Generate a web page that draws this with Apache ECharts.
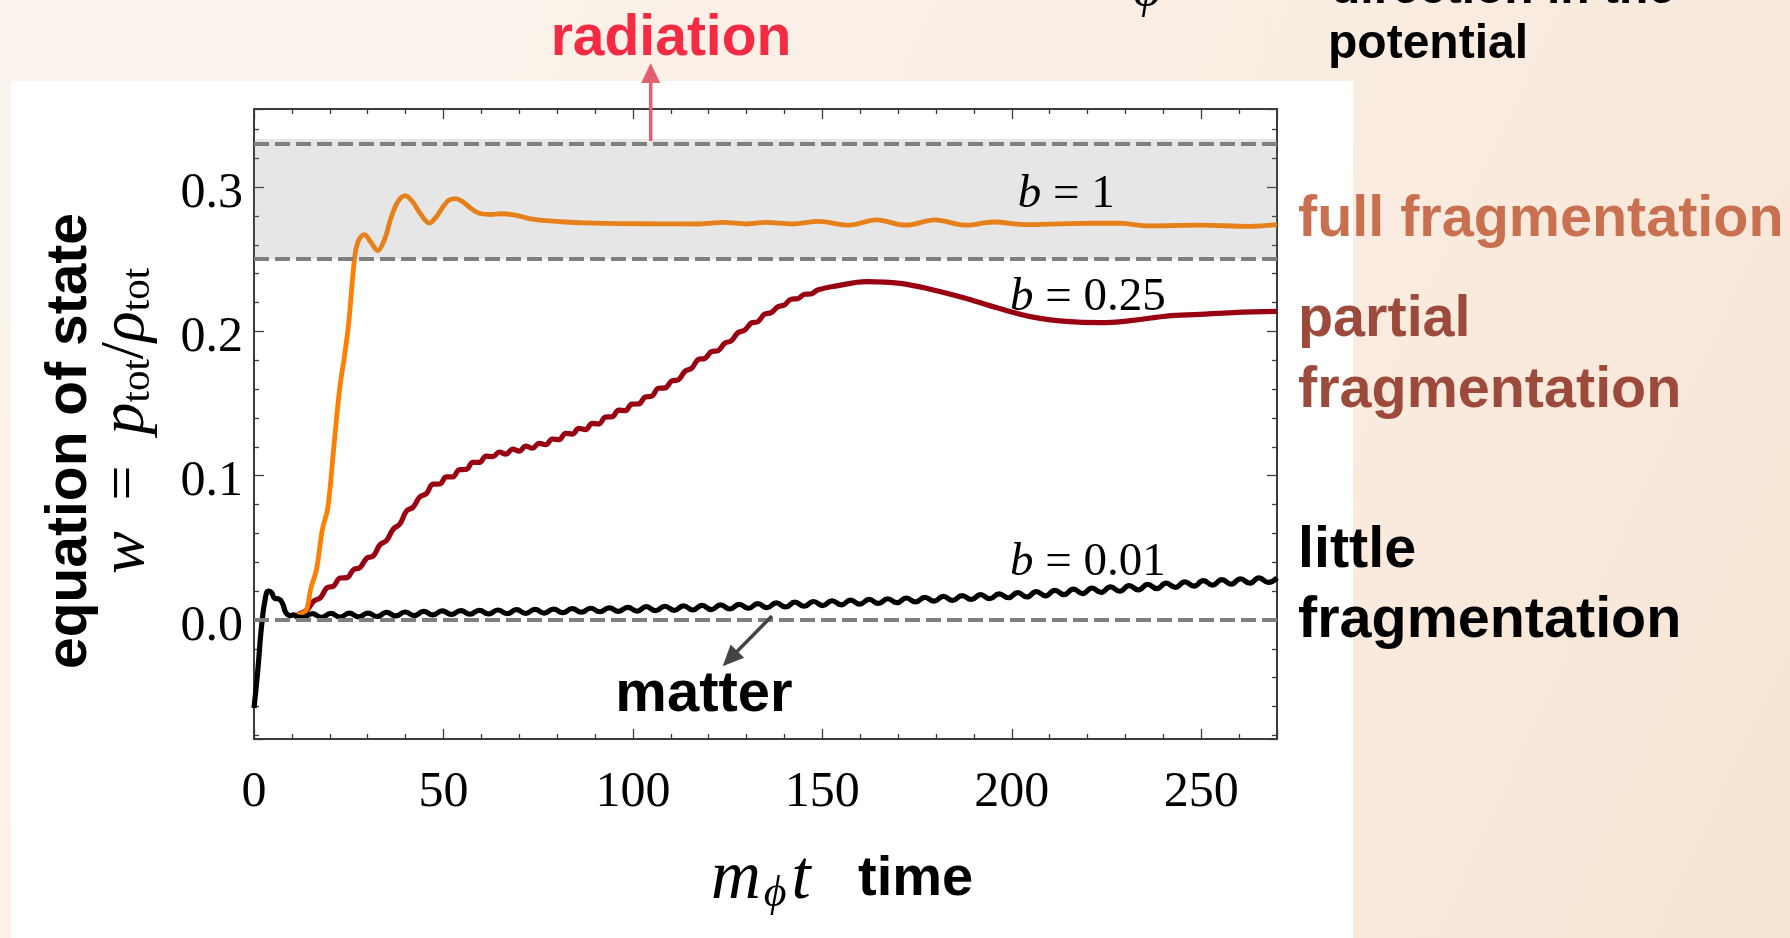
<!DOCTYPE html>
<html><head><meta charset="utf-8">
<script src="https://cdn.jsdelivr.net/npm/echarts@6/dist/echarts.min.js"></script>
<style>
html,body{margin:0;padding:0;width:1790px;height:938px;overflow:hidden;
background:linear-gradient(115deg,#fbf4ee 0%,#faefe6 45%,#f9eadd 75%,#f7e5d3 100%);}
#c{width:1790px;height:938px;}
</style></head><body><div id="c"></div>
<script>
// ---- axis ticks ----
const xTickValues = [0, 50, 100, 150, 200, 250];
const yTickValues = [0.0, 0.1, 0.2, 0.3];
const xRange = [0, 270];
const yRange = [-0.0825, 0.3541];

// ---- reference levels ----
const radiationLevel = 1 / 3;
const bandLow = 0.25;
const matterLevel = 0;

// ---- b = 1 (full fragmentation) ----
const fullT = [11.4, 13, 14, 15, 16.5, 18, 19.5, 21, 22.6, 24, 25, 26.6, 27.6, 29.1, 30.8, 32.6, 34.5, 36.2, 38, 39.9, 41.8, 43.8, 46.3, 48, 49.8, 51.5, 53.3, 55, 56.9, 58.5, 60, 62.5, 65, 69, 73, 78, 82, 90, 97, 107, 117.4, 124, 130, 135, 142, 149, 157, 164.3, 172, 179.7, 188, 195, 204, 214.6, 227.8, 236.4, 249.6, 262.8, 270];
const fullW = [0.0035, 0.005, 0.008, 0.022, 0.035, 0.062, 0.078, 0.118, 0.160, 0.185, 0.206, 0.252, 0.263, 0.267, 0.262, 0.256, 0.264, 0.279, 0.290, 0.294, 0.290, 0.282, 0.275, 0.279, 0.286, 0.291, 0.292, 0.290, 0.286, 0.283, 0.2815, 0.281, 0.2815, 0.2805, 0.278, 0.2765, 0.2758, 0.275, 0.2747, 0.2745, 0.2744, 0.2755, 0.2744, 0.2755, 0.2744, 0.2762, 0.2736, 0.2772, 0.2736, 0.2772, 0.2736, 0.2758, 0.274, 0.2747, 0.275, 0.2731, 0.2736, 0.2728, 0.274];

// ---- b = 0.25 (partial fragmentation) ----
const partT = [11.4, 14, 15.75, 17.5, 19.25, 21, 22.75, 24.5, 26.25, 28, 29.75, 31.5, 33.25, 35, 36.75, 38.5, 40.25, 42, 43.75, 45.5, 47.25, 49, 50.75, 52.5, 54.25, 56, 57.75, 59.5, 61.25, 63, 64.75, 66.5, 68.25, 70, 71.75, 73.5, 75.25, 77, 78.75, 80.5, 82.25, 84, 85.75, 87.5, 89.25, 91, 92.75, 94.5, 96.25, 98, 99.75, 101.5, 103.25, 105, 106.75, 108.5, 110.25, 112, 113.75, 115.5, 117.25, 119, 120.75, 122.5, 124.25, 126, 127.75, 129.5, 131.25, 133, 134.75, 136.5, 138.25, 140, 141.75, 143.5, 145.25, 147, 148.75, 153.8, 161.7, 170.5, 179.3, 188, 196.8, 205.6, 214.4, 223.2, 232, 240.8, 249.6, 258.4, 270];
const partW = [0.0035, 0.0070, 0.0130, 0.0153, 0.0223, 0.0235, 0.0291, 0.0293, 0.0348, 0.0364, 0.0428, 0.0444, 0.0521, 0.0551, 0.0630, 0.0665, 0.0755, 0.0782, 0.0852, 0.0875, 0.0941, 0.0942, 0.0991, 0.0992, 0.1042, 0.1043, 0.1092, 0.1092, 0.1136, 0.1132, 0.1164, 0.1149, 0.1184, 0.1170, 0.1204, 0.1190, 0.1224, 0.1215, 0.1254, 0.1250, 0.1294, 0.1288, 0.1327, 0.1319, 0.1363, 0.1358, 0.1406, 0.1408, 0.1454, 0.1451, 0.1496, 0.1497, 0.1545, 0.1551, 0.1606, 0.1608, 0.1656, 0.1664, 0.1724, 0.1744, 0.1805, 0.1813, 0.1860, 0.1867, 0.1918, 0.1935, 0.1991, 0.2008, 0.2058, 0.2068, 0.2119, 0.2130, 0.2170, 0.2183, 0.2223, 0.2226, 0.2257, 0.2259, 0.2287, 0.2315, 0.2345, 0.2333, 0.2287, 0.2228, 0.2158, 0.2099, 0.2069, 0.2060, 0.2076, 0.2106, 0.2118, 0.2130, 0.2138];

// ---- b = 0.01 (little fragmentation) ----
const littleT = [0, 1, 2, 3, 3.8, 4.6, 5.5, 6.6, 7.6, 8.4, 9.5, 10.5, 11.5,
  12.9, 15.35, 17.8, 20.25, 22.7, 25.15, 27.6, 30.05, 32.5, 34.95, 37.4, 39.85, 42.3, 44.75, 47.2, 49.65,
  52.1, 54.55, 57.0, 59.45, 61.9, 64.35, 66.8, 69.25, 71.7, 74.15, 76.6, 79.05, 81.5, 83.95, 86.4, 88.85,
  91.3, 93.75, 96.2, 98.65, 101.1, 103.55, 106.0, 108.45, 110.9, 113.35, 115.8, 118.25, 120.7, 123.15,
  125.6, 128.05, 130.5, 132.95, 135.4, 137.85, 140.3, 142.75, 145.2, 147.65, 150.1, 152.55, 155.0, 157.45,
  159.9, 162.35, 164.8, 167.25, 169.7, 172.15, 174.6, 177.05, 179.5, 181.95, 184.4, 186.85, 189.3, 191.75,
  194.2, 196.65, 199.1, 201.55, 204.0, 206.45, 208.9, 211.35, 213.8, 216.25, 218.7, 221.15, 223.6, 226.05,
  228.5, 230.95, 233.4, 235.85, 238.3, 240.75, 243.2, 245.65, 248.1, 250.55, 253.0, 255.45, 257.9, 260.35,
  262.8, 265.25, 267.7, 270];
const littleW = [-0.061, -0.035, -0.004, 0.015, 0.020, 0.019, 0.015, 0.0145, 0.011, 0.005, 0.003, 0.0035, 0.002,
  0.0017, 0.0044, 0.0018, 0.0045, 0.0020, 0.0047, 0.0021, 0.0048, 0.0024, 0.0052, 0.0028, 0.0055, 0.0031, 0.0059, 0.0035, 0.0063,
  0.0038, 0.0065, 0.0040, 0.0067, 0.0042, 0.0069, 0.0044, 0.0071, 0.0046, 0.0073, 0.0048, 0.0075, 0.0051, 0.0078, 0.0054, 0.0081,
  0.0057, 0.0084, 0.0060, 0.0087, 0.0061, 0.0092, 0.0064, 0.0095, 0.0067, 0.0098, 0.0069, 0.0101, 0.0072, 0.0104,
  0.0076, 0.0108, 0.0081, 0.0113, 0.0085, 0.0118, 0.0090, 0.0123, 0.0095, 0.0128, 0.0100, 0.0133, 0.0105, 0.0137,
  0.0110, 0.0142, 0.0115, 0.0147, 0.0120, 0.0152, 0.0125, 0.0157, 0.0130, 0.0163, 0.0136, 0.0169, 0.0142, 0.0175,
  0.0148, 0.0181, 0.0154, 0.0189, 0.0159, 0.0197, 0.0167, 0.0205, 0.0175, 0.0213, 0.0183, 0.0221, 0.0191, 0.0229,
  0.0199, 0.0238, 0.0208, 0.0247, 0.0217, 0.0255, 0.0226, 0.0264, 0.0235, 0.0273, 0.0242, 0.0279, 0.0248, 0.0285,
  0.0255, 0.0292, 0.0261, 0.0292];

const serif = "'Liberation Serif', 'DejaVu Serif', serif";
const sans = "'Liberation Sans', Arial, sans-serif";
const frameColor = '#3c3c3c';
const pairs = (T, W) => T.map((t, i) => [t, W[i]]);

const chart = echarts.init(document.getElementById('c'), null, { renderer: 'canvas' });

function xAxisCfg(position, showLabels) {
  return {
    type: 'value', position: position, min: xRange[0], max: xRange[1], interval: 50,
    axisLine: { show: true, onZero: false, lineStyle: { color: frameColor, width: 2 } },
    axisTick: { show: true, inside: true, length: 10, lineStyle: { color: frameColor, width: 1.3 } },
    minorTick: { show: true, splitNumber: 5, length: 5, lineStyle: { color: frameColor, width: 1.3 } },
    splitLine: { show: false }, minorSplitLine: { show: false },
    axisLabel: {
      show: showLabels, margin: 29, color: '#000', fontFamily: serif, fontSize: 50,
      showMaxLabel: false,
      formatter: v => (xTickValues.some(t => Math.abs(t - v) < 1e-6) ? String(v) : '')
    }
  };
}
function yAxisCfg(position, showLabels) {
  return {
    type: 'value', position: position, min: yRange[0], max: yRange[1],
    minInterval: 0.1, maxInterval: 0.1, splitNumber: 4,
    axisLine: { show: true, onZero: false, lineStyle: { color: frameColor, width: 2 } },
    axisTick: { show: true, inside: true, length: 10, lineStyle: { color: frameColor, width: 1.3 } },
    minorTick: { show: true, splitNumber: 5, length: 5, lineStyle: { color: frameColor, width: 1.3 } },
    splitLine: { show: false }, minorSplitLine: { show: false },
    axisLabel: {
      show: showLabels, margin: 11, color: '#000',
      showMinLabel: false, showMaxLabel: false,
      formatter: v => (yTickValues.some(t => Math.abs(t - v) < 1e-6) ? '{v|' + v.toFixed(1) + '}' : ''),
      rich: { v: { fontFamily: serif, fontSize: 50, color: '#000', padding: [13, 0, 0, 0] } }
    }
  };
}

chart.setOption({
  animation: false,
  backgroundColor: 'transparent',
  grid: { left: 254, top: 109, right: 513, bottom: 199, containLabel: false },
  xAxis: [xAxisCfg('bottom', true), xAxisCfg('top', false)],
  yAxis: [yAxisCfg('left', true), yAxisCfg('right', false)],
  series: [
    {
      name: 'b = 0.25', type: 'line', data: pairs(partT, partW), showSymbol: false, symbol: 'none',
      smooth: 0.4, lineStyle: { color: '#990012', width: 5.2 }, z: 3
    },
    {
      name: 'b = 1', type: 'line', data: pairs(fullT, fullW), showSymbol: false, symbol: 'none',
      smooth: 0.35, lineStyle: { color: '#ff8000', width: 4.8 }, z: 3
    },
    {
      name: 'b = 0.01', type: 'line', data: pairs(littleT, littleW), showSymbol: false, symbol: 'none',
      smooth: 0.5, lineStyle: { color: '#000000', width: 5.2 }, z: 4,
      markArea: {
        silent: true, z: 6,
        itemStyle: { color: 'rgba(128,128,128,0.2)' },
        data: [[{ yAxis: bandLow }, { yAxis: radiationLevel }]]
      },
      markLine: {
        silent: true, z: 7, symbol: ['none', 'none'],
        label: { show: false },
        lineStyle: { color: '#7f7f7f', width: 4.2, type: [15, 6] },
        data: [{ yAxis: radiationLevel }, { yAxis: bandLow }, { yAxis: matterLevel }]
      }
    }
  ]
});

function arrow(p0, p1, color, width, headLen, headW) {
  const dx = p1[0] - p0[0], dy = p1[1] - p0[1];
  const L = Math.hypot(dx, dy), ux = dx / L, uy = dy / L;
  const bx = p1[0] - ux * headLen, by = p1[1] - uy * headLen;
  const nx = -uy, ny = ux;
  return [
    { type: 'line', z: 60, shape: { x1: p0[0], y1: p0[1], x2: bx + ux * 2, y2: by + uy * 2 }, style: { stroke: color, lineWidth: width } },
    { type: 'polygon', z: 60, shape: { points: [[p1[0], p1[1]], [bx + nx * headW / 2, by + ny * headW / 2], [bx - nx * headW / 2, by - ny * headW / 2]] }, style: { fill: color } }
  ];
}
const px = (t, w) => chart.convertToPixel({ gridIndex: 0 }, [t, w]);

const bRich = { i: { fontFamily: serif, fontStyle: 'italic', fontSize: 47, fill: '#000' }, n: { fontFamily: serif, fontSize: 47, fill: '#000' } };
function bLabel(t, w, txt) {
  const p = px(t, w);
  return { type: 'text', z: 70, x: p[0], y: p[1], style: { text: '{i|b}{n| = ' + txt + '}', rich: bRich, align: 'left', verticalAlign: 'middle' } };
}
function sansText(x, y, txt, size, color, align) {
  return { type: 'text', z: 70, x: x, y: y, style: { text: txt, fontFamily: sans, fontWeight: 'bold', fontSize: size, fill: color, align: align || 'left', verticalAlign: 'middle' } };
}

const graphics = [
  { type: 'rect', z: -100, shape: { x: 11, y: 81, width: 1342, height: 900 }, style: { fill: '#ffffff' } },
  bLabel(201.6, 0.2945, '1'),
  bLabel(199.5, 0.2235, '0.25'),
  bLabel(199.5, 0.0395, '0.01'),
  sansText(671, 39, 'radiation', 57, '#f62a42', 'center'),
  sansText(1331, -10, 'direction in the', 48, '#000'),
  sansText(1328, 45, 'potential', 48, '#000'),
  { type: 'text', z: 70, x: 1147, y: -7, style: { text: 'φ', fontFamily: serif, fontStyle: 'italic', fontSize: 50, fill: '#000', align: 'center', verticalAlign: 'middle' } },
  sansText(1298, 220, 'full fragmentation', 57.5, '#c8704f'),
  sansText(1298, 320, 'partial', 57.5, '#9c4a3c'),
  sansText(1298, 391, 'fragmentation', 57.5, '#9c4a3c'),
  sansText(1298, 551, 'little', 57.5, '#000'),
  sansText(1298, 621, 'fragmentation', 57.5, '#000'),
  sansText(704, 695, 'matter', 58, '#000', 'center'),
  sansText(858, 880, 'time', 56, '#000'),
  {
    type: 'text', z: 70, x: 711, y: 880,
    style: {
      text: '{i|m}{s|ϕ}{i|t}', align: 'left', verticalAlign: 'middle',
      rich: {
        i: { fontFamily: serif, fontStyle: 'italic', fontSize: 69, lineHeight: 72, fill: '#000' },
        s: { fontFamily: serif, fontStyle: 'italic', fontSize: 44, lineHeight: 44, verticalAlign: 'bottom', padding: [0, 5, 0, 3], fill: '#000' }
      }
    }
  },
  {
    type: 'text', z: 70, x: 70, y: 441, rotation: Math.PI / 2,
    style: { text: 'equation of state', fontFamily: sans, fontWeight: 'bold', fontSize: 57, fill: '#000', align: 'center', verticalAlign: 'middle' }
  },
  {
    type: 'text', z: 70, x: 126, y: 421, rotation: Math.PI / 2,
    style: {
      text: '{i|w}{n|  =  }{i|p}{s|tot}{n|/}{i|ρ}{s|tot}', align: 'center', verticalAlign: 'middle',
      rich: {
        i: { fontFamily: serif, fontStyle: 'italic', fontSize: 64, lineHeight: 66, fill: '#000' },
        n: { fontFamily: serif, fontSize: 62, lineHeight: 66, fill: '#000' },
        s: { fontFamily: serif, fontSize: 41, lineHeight: 41, verticalAlign: 'bottom', fill: '#000' }
      }
    }
  }
];

const radBase = px(104.7, radiationLevel);
const radTip = px(104.7, 0.386);
const mFrom = px(136.7, 0.0028);
const mTo = px(123.7, -0.032);
graphics.push(...arrow([radBase[0], radBase[1] + 2], radTip, '#e0606f', 3.5, 20, 19));
graphics.push(...arrow(mFrom, mTo, '#444444', 3.5, 21, 19));

chart.setOption({ graphic: graphics });
</script></body></html>
